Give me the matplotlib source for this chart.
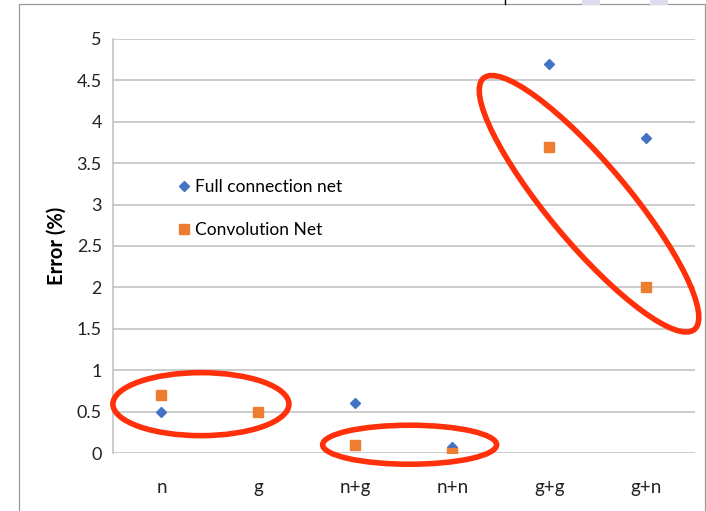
#!/usr/bin/env python

import matplotlib
matplotlib.use('Agg')
import matplotlib.pyplot as plt
from matplotlib.patches import Ellipse, Rectangle
from matplotlib.transforms import ScaledTranslation

plt.rcParams['font.family'] = ['Lato', 'DejaVu Sans']

# ------------------------------------------------------------------
categories = ['n', 'g', 'n+g', 'n+n', 'g+g', 'g+n']
full_connection = [0.5, 0.5, 0.6, 0.07, 4.7, 3.8]
convolution = [0.7, 0.5, 0.1, 0.0, 3.7, 2.0]
y_ticks = [0, 0.5, 1, 1.5, 2, 2.5, 3, 3.5, 4, 4.5, 5]

# highlighted groups: (center x, center y) in data units,
# (width, height) in pixels, rotation in degrees
highlights = [
    ((0.907, 0.59), (176, 63), 0),
    ((3.06, 0.10), (174, 39), 0),
    ((4.91, 3.01), (328, 80), -50),
]

GRID = '#bfbfbf'
BLUE = '#4472c4'
ORANGE = '#ed7d31'
RED = '#ff300a'

fig = plt.figure(figsize=(7.06, 5.11), dpi=100)
ax = fig.add_axes([0.160, 0.1135, 0.824, 0.8102])

x = [i + 0.5 for i in range(len(categories))]
ax.plot(x, full_connection, linestyle='none', marker='D', ms=5.2,
        color=BLUE, label='Full connection net', zorder=3)
ax.plot(x, convolution, linestyle='none', marker='s', ms=7.6,
        color=ORANGE, label='Convolution Net', zorder=4)

ax.set_xlim(0, len(categories))
ax.set_ylim(0, 5)
ax.set_xticks(x)
ax.set_xticklabels(categories)
ax.set_yticks(y_ticks)
ax.set_yticklabels(['%g' % v for v in y_ticks])
ax.tick_params(axis='both', length=0, labelsize=13, colors='#222222')
ax.tick_params(axis='x', pad=19, labelsize=13.5)
ax.tick_params(axis='y', pad=8)
ax.yaxis.grid(True, color=GRID, linewidth=1.1)
ax.set_axisbelow(True)
for side in ['top', 'right', 'bottom']:
    ax.spines[side].set_visible(False)
ax.spines['left'].set_color(GRID)
ax.spines['left'].set_linewidth(1.1)

ax.set_ylabel('Error (%)', fontsize=14.5, fontweight='bold', labelpad=7)

ax.legend(loc='center left', bbox_to_anchor=(0.1135, 0.590), frameon=False,
          fontsize=12.5, handlelength=0.6, handletextpad=0.35,
          labelspacing=1.55, borderpad=0, borderaxespad=0)

# red rings around the groups of interest
for (cx, cy), (w, h), angle in highlights:
    trf = fig.dpi_scale_trans + ScaledTranslation(cx, cy, ax.transData)
    ax.add_patch(Ellipse((0, 0), w / 100.0, h / 100.0, angle=angle,
                         fill=False, edgecolor=RED, linewidth=4.0,
                         transform=trf, clip_on=False, zorder=5))

# outer frame of the chart area
fig.add_artist(Rectangle((19 / 706.0, -0.02), 686 / 706.0, 1.02 - 4 / 511.0,
                         transform=fig.transFigure, fill=False,
                         edgecolor='#9a9a9a', linewidth=0.9))
fig.add_artist(plt.Line2D([505 / 706.0, 505 / 706.0], [1.0, 1 - 4 / 511.0],
                          transform=fig.transFigure, color='black', lw=1))
for x0 in [582, 650]:
    fig.add_artist(Rectangle((x0 / 706.0, 1 - 5 / 511.0), 18 / 706.0, 5 / 511.0,
                             transform=fig.transFigure, color='#dcdcee', lw=0))

fig.savefig('out.png', dpi=100)
